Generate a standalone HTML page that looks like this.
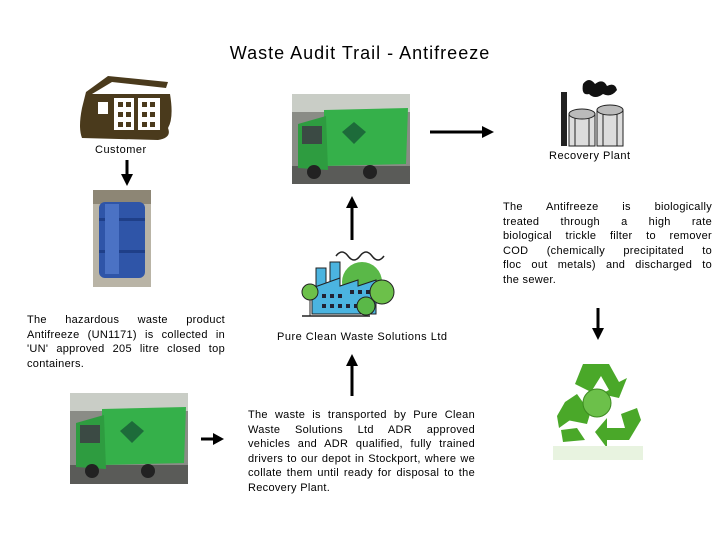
<!DOCTYPE html>
<html><head><style>
body{margin:0;width:720px;height:540px;background:#fff;position:relative;overflow:hidden;font-family:"Liberation Sans",sans-serif;color:#000}
.a{position:absolute}
.t{font-size:11px;line-height:14.5px;letter-spacing:0.3px}
.t div{text-align:justify;text-align-last:justify;white-space:nowrap}
.t div.e{text-align-last:left}
.l{font-size:11px;letter-spacing:0.5px}
</style></head><body>
<div class="a" style="left:0;width:720px;top:43px;text-align:center;font-size:18px;letter-spacing:1px">Waste Audit Trail - Antifreeze</div>

<svg class="a" style="left:78px;top:68px" width="96" height="74" viewBox="0 0 96 74">
<path d="M4 70 Q0 60 4 40 L8 24 L30 8 L90 14 L88 20 L34 14 L14 26 L92 26 Q96 50 90 60 Q94 70 80 72 Z" fill="#4a3a1c"/>
<rect x="20" y="34" width="10" height="12" fill="#fff"/><rect x="36" y="30" width="20" height="32" fill="#fff"/><rect x="60" y="30" width="22" height="32" fill="#fff"/>
<g fill="#4a3a1c"><rect x="40" y="34" width="5" height="5"/><rect x="48" y="34" width="5" height="5"/><rect x="40" y="44" width="5" height="5"/><rect x="48" y="44" width="5" height="5"/><rect x="40" y="54" width="5" height="5"/><rect x="48" y="54" width="5" height="5"/><rect x="64" y="34" width="5" height="5"/><rect x="72" y="34" width="5" height="5"/><rect x="64" y="44" width="5" height="5"/><rect x="72" y="44" width="5" height="5"/><rect x="64" y="54" width="5" height="5"/><rect x="72" y="54" width="5" height="5"/></g>
</svg>
<div class="a l" style="left:95px;top:144px">Customer</div>

<svg class="a" style="left:292px;top:94px" width="118" height="90" viewBox="0 0 118 90">
<rect width="118" height="90" fill="#8a8c86"/><rect x="0" y="0" width="118" height="18" fill="#c9cdc6"/>
<rect x="0" y="72" width="118" height="18" fill="#5a5b58"/>
<polygon points="32,16 116,14 114,70 32,72" fill="#35b04a"/>
<polygon points="6,30 34,22 36,76 6,74" fill="#2e9c40"/>
<rect x="10" y="32" width="20" height="18" fill="#3b4a44"/>
<circle cx="22" cy="78" r="7" fill="#222"/><circle cx="78" cy="78" r="7" fill="#222"/>
<polygon points="62,28 74,38 62,50 50,38" fill="#1d6b3a"/>
</svg>

<svg class="a" style="left:428px;top:126px" width="68" height="12"><line x1="2" y1="6" x2="56" y2="6" stroke="#000" stroke-width="3"/><polygon points="54,0 66,6 54,12" fill="#000"/></svg>

<svg class="a" style="left:553px;top:76px" width="82" height="72" viewBox="0 0 82 72">
<rect x="8" y="16" width="6" height="54" fill="#222"/>
<path d="M30 8 q6 -8 12 0 q8 -6 12 2 q8 -4 10 4 q-6 8 -14 4 q-8 6 -14 0 q-8 2 -6 -10z" fill="#111"/>
<rect x="16" y="38" width="26" height="32" fill="#ddd" stroke="#222"/><rect x="44" y="34" width="26" height="36" fill="#ddd" stroke="#222"/>
<ellipse cx="29" cy="38" rx="13" ry="5" fill="#bbb" stroke="#222"/><ellipse cx="57" cy="34" rx="13" ry="5" fill="#bbb" stroke="#222"/>
<g stroke="#222"><line x1="22" y1="42" x2="22" y2="70"/><line x1="36" y1="42" x2="36" y2="70"/><line x1="50" y1="38" x2="50" y2="70"/><line x1="64" y1="38" x2="64" y2="70"/></g>
</svg>
<div class="a l" style="left:549px;top:150px">Recovery Plant</div>

<svg class="a" style="left:121px;top:160px" width="12" height="28"><line x1="6" y1="0" x2="6" y2="16" stroke="#000" stroke-width="3"/><polygon points="0,14 12,14 6,26" fill="#000"/></svg>

<svg class="a" style="left:93px;top:190px" width="58" height="97" viewBox="0 0 58 97">
<rect width="58" height="97" fill="#b9b4a6"/><rect y="0" width="58" height="14" fill="#8d8675"/>
<rect x="6" y="12" width="46" height="76" rx="6" fill="#2f55a8"/>
<rect x="6" y="28" width="46" height="3" fill="#1f3f88"/><rect x="6" y="60" width="46" height="3" fill="#1f3f88"/>
<rect x="12" y="14" width="14" height="70" fill="#4b72c4"/>
</svg>

<svg class="a" style="left:346px;top:196px" width="12" height="46"><polygon points="0,12 12,12 6,0" fill="#000"/><line x1="6" y1="10" x2="6" y2="44" stroke="#000" stroke-width="3"/></svg>

<div class="a t" style="left:503px;top:200px;width:209px">
<div>The Antifreeze is biologically</div>
<div>treated through a high rate</div>
<div>biological trickle filter to remover</div>
<div>COD (chemically precipitated to</div>
<div>floc out metals) and discharged to</div>
<div class="e">the sewer.</div>
</div>

<svg class="a" style="left:300px;top:244px" width="96" height="78" viewBox="0 0 96 78">
<path d="M36 12 q6 -8 12 0 q6 8 12 0 q6 -8 12 0 q6 8 12 0" fill="none" stroke="#222" stroke-width="1.5"/>
<circle cx="62" cy="38" r="20" fill="#5ab848"/>
<rect x="16" y="24" width="10" height="20" fill="#4bb4e0" stroke="#222"/><rect x="30" y="18" width="10" height="26" fill="#4bb4e0" stroke="#222"/>
<polygon points="12,44 40,34 40,42 58,36 58,42 76,36 76,70 12,70" fill="#4bb4e0" stroke="#222"/>
<g fill="#223"><rect x="22" y="50" width="4" height="4"/><rect x="30" y="50" width="4" height="4"/><rect x="38" y="50" width="4" height="4"/><rect x="50" y="46" width="4" height="4"/><rect x="58" y="46" width="4" height="4"/><rect x="66" y="46" width="4" height="4"/><rect x="22" y="60" width="4" height="4"/><rect x="30" y="60" width="4" height="4"/><rect x="38" y="60" width="4" height="4"/><rect x="46" y="60" width="4" height="4"/><rect x="54" y="60" width="4" height="4"/></g>
<circle cx="10" cy="48" r="8" fill="#6cc04a" stroke="#222"/><line x1="10" y1="56" x2="10" y2="72" stroke="#222"/>
<circle cx="82" cy="48" r="12" fill="#6cc04a" stroke="#222"/><circle cx="66" cy="62" r="9" fill="#5ab848" stroke="#222"/>
<line x1="2" y1="72" x2="70" y2="72" stroke="#222" stroke-width="1.5"/>
</svg>
<div class="a l" style="left:277px;top:331px">Pure Clean Waste Solutions Ltd</div>

<div class="a t" style="left:27px;top:313px;width:198px">
<div>The hazardous waste product</div>
<div>Antifreeze (UN1171) is collected in</div>
<div>'UN' approved 205 litre closed top</div>
<div class="e">containers.</div>
</div>

<svg class="a" style="left:346px;top:354px" width="12" height="44"><polygon points="0,12 12,12 6,0" fill="#000"/><line x1="6" y1="10" x2="6" y2="42" stroke="#000" stroke-width="3"/></svg>

<svg class="a" style="left:592px;top:308px" width="12" height="34"><line x1="6" y1="0" x2="6" y2="22" stroke="#000" stroke-width="3"/><polygon points="0,20 12,20 6,32" fill="#000"/></svg>

<svg class="a" style="left:553px;top:358px" width="90" height="104" viewBox="0 0 90 104">
<g fill="#4aa829">
<polygon points="30,6 56,6 66,24 74,20 66,40 48,36 56,32 48,18 38,34 22,26"/>
<polygon points="12,44 24,36 34,50 40,46 34,66 14,62 20,60 6,70 4,58"/>
<polygon points="84,50 88,62 76,82 54,82 54,90 42,74 54,60 54,70 72,70 68,56"/>
<polygon points="8,72 24,70 32,82 10,84"/>
</g>
<circle cx="44" cy="45" r="14" fill="#6cc04a" stroke="#3c8a20"/>
<rect x="0" y="88" width="90" height="14" fill="#e8f3e0"/>
</svg>

<svg class="a" style="left:70px;top:393px" width="118" height="91" viewBox="0 0 118 91">
<rect width="118" height="91" fill="#8a8c86"/><rect width="118" height="18" fill="#c9cdc6"/>
<rect y="72" width="118" height="19" fill="#5a5b58"/>
<polygon points="32,16 116,14 114,70 32,72" fill="#35b04a"/>
<polygon points="6,30 34,22 36,76 6,74" fill="#2e9c40"/>
<rect x="10" y="32" width="20" height="18" fill="#3b4a44"/>
<circle cx="22" cy="78" r="7" fill="#222"/><circle cx="78" cy="78" r="7" fill="#222"/>
<polygon points="62,28 74,38 62,50 50,38" fill="#1d6b3a"/>
</svg>

<svg class="a" style="left:201px;top:433px" width="24" height="12"><line x1="0" y1="6" x2="14" y2="6" stroke="#000" stroke-width="3"/><polygon points="12,0 23,6 12,12" fill="#000"/></svg>

<div class="a t" style="left:248px;top:408px;width:227px">
<div>The waste is transported by Pure Clean</div>
<div>Waste Solutions Ltd ADR approved</div>
<div>vehicles and ADR qualified, fully trained</div>
<div>drivers to our depot in Stockport, where we</div>
<div>collate them until ready for disposal to the</div>
<div class="e">Recovery Plant.</div>
</div>
</body></html>
